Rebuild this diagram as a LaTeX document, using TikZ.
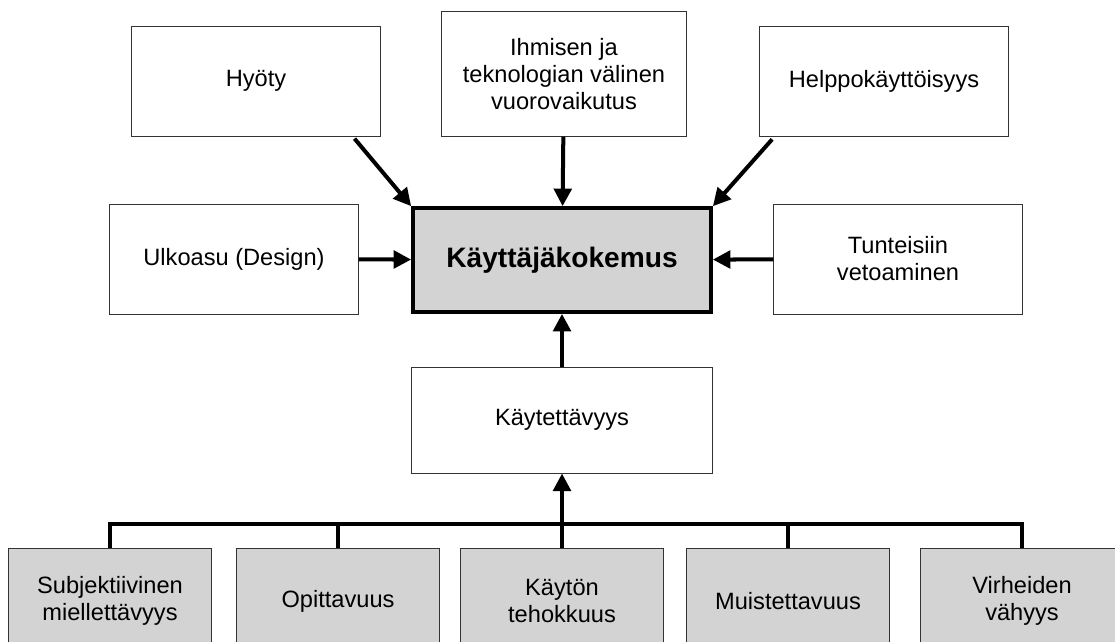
\documentclass[tikz,border=0pt]{standalone}
\usepackage{fontspec}
\setmainfont{Liberation Sans}
\usetikzlibrary{arrows.meta}
\definecolor{boxgray}{RGB}{211,211,211}
\definecolor{edgegray}{RGB}{51,51,51}

\begin{document}
\begin{tikzpicture}[
x=0.025cm, y=-0.025cm,
every node/.style={
align=center,
inner sep=0pt,
font=\fontsize{16.8}{19.2}\selectfont
},
box/.style={
draw=edgegray,
line width=0.7pt,
fill=white,
minimum width=6.2cm,
minimum height=2.75cm
},
hub/.style={
draw=black,
line width=2.6pt,
fill=boxgray,
minimum width=7.45cm,
minimum height=2.6cm,
font=\fontsize{20}{24}\selectfont\bfseries
},
leaf/.style={
box,
fill=boxgray,
minimum width=5.075cm,
minimum height=2.65cm
},
arr/.style={
line width=2.85pt,
-{Triangle[length=12.5pt,width=12.5pt]}
},
link/.style={
line width=2.85pt
}
]
\useasboundingbox (0,0) rectangle (1115,641);
\clip (0,0) rectangle (1115,641);

\node[hub] (UX) at (562,260)
{Käyttäjäkokemus};

\node[box] (H) at (256,81)
{Hyöty};

\node[box, minimum width=6.125cm, minimum height=3.1cm] (I) at (564,74)
{Ihmisen ja\\teknologian välinen\\vuorovaikutus};

\node[box] (E) at (884,81)
{Helppokäyttöisyys};

\node[box] (U) at (234,259)
{Ulkoasu (Design)};

\node[box] (T) at (898,259)
{Tunteisiin\\vetoaminen};

\node[box, minimum width=7.525cm, minimum height=2.65cm] (K) at (562,420)
{Käytettävyys};

\node[leaf] (S) at (110,601)
{Subjektiivinen\\miellettävyys};

\node[leaf] (O) at (338,601)
{Opittavuus};

\node[leaf] (TE) at (562,601)
{Käytön\\tehokkuus};

\node[leaf] (M) at (788,601)
{Muistettavuus};

\node[leaf] (V) at (1022,601)
{Virheiden\\vähyys};

\coordinate (bus) at (562,524);

\draw[arr] ([xshift=-18.5pt,yshift=-1.5pt]H.south east) -- (UX.north west);
\draw[arr] (I) -- (UX);
\draw[arr] ([xshift=9pt,yshift=-2pt]E.south west) -- (UX.north east);
\draw[arr] (U) -- (UX);
\draw[arr] (T) -- (UX);
\draw[arr] (K) -- (UX);

\draw[link] (S.north) |- (bus) -| (V.north);
\draw[link] (O.north) -- (O.north |- bus);
\draw[link] (M.north) -- (M.north |- bus);
\draw[arr] (TE) -- (K);

\end{tikzpicture}
\end{document}
